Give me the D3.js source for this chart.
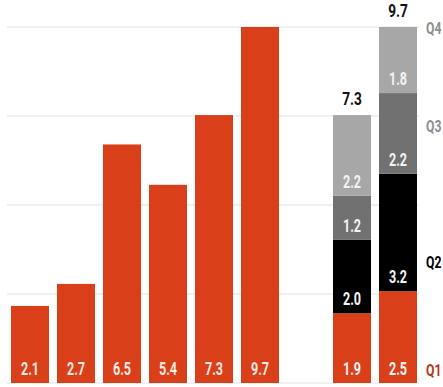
<!DOCTYPE html>
<html>
<head>
<meta charset="utf-8">
<script src="https://cdn.jsdelivr.net/npm/d3@7"></script>
<style>
  html, body { margin: 0; padding: 0; background: #fff; }
  svg { display: block; }
  text { font-family: Roboto, "Liberation Sans", sans-serif; font-weight: 700; }
</style>
</head>
<body>
<svg id="chart" width="443" height="387"></svg>
<script>
// Annual totals (single red bars)
const annualValues = [2.1, 2.7, 6.5, 5.4, 7.3, 9.7];
// Quarterly breakdown of the last two years
const quarterNames = ["Q1", "Q2", "Q3", "Q4"];
const stackA = [1.9, 2.0, 1.2, 2.2];
const stackB = [2.5, 3.2, 2.2, 1.8];
// Slot positions along x: six annual bars, an empty slot, two stacks
const slotKeys = ["y1", "y2", "y3", "y4", "y5", "y6", "blank", "s1", "s2"];
// Where each quarter name sits on the value axis
const quarterLabelAt = [0.35, 3.3, 7.0, 9.68];

const quarterColors = ["#d9401a", "#000000", "#717171", "#a7a7a7"];
const quarterLabelColors = ["#b5361c", "#000000", "#8e8e8e", "#8e8e8e"];
const RED = "#d9401a";
const SX = 0.72; // horizontal squeeze for a condensed look

const svg = d3.select("#chart");
const yMax = d3.max([d3.max(annualValues), d3.sum(stackA), d3.sum(stackB)]);

const x = d3.scaleBand().domain(slotKeys).range([11, 417]).paddingInner(0.174).paddingOuter(0);
const y = d3.scaleLinear().domain([0, yMax]).range([383, 27]);

// Quarter gridlines
const gridVals = d3.range(0, 5).map(k => yMax * k / 4);
svg.append("g").selectAll("line").data(gridVals).join("line")
  .attr("x1", 7).attr("x2", 419)
  .attr("y1", d => y(d)).attr("y2", d => y(d))
  .attr("stroke", "#e2e2e2").attr("stroke-width", 1.2);

function label(g, cx, baseY, txt, size, color) {
  g.append("text")
    .attr("transform", `translate(${cx},${baseY}) scale(${SX},1)`)
    .attr("text-anchor", "middle")
    .attr("font-size", size)
    .attr("fill", color)
    .text(txt);
}

// Annual bars
const annual = annualValues.map((v, i) => ({ key: slotKeys[i], v }));
const gA = svg.append("g");
gA.selectAll("rect").data(annual).join("rect")
  .attr("x", d => x(d.key)).attr("width", x.bandwidth())
  .attr("y", d => y(d.v)).attr("height", d => y(0) - y(d.v))
  .attr("fill", RED);
annual.forEach(d => label(gA, x(d.key) + x.bandwidth() / 2, y(0) - 8, d.v.toFixed(1), 17.5, "#f6e9e2"));

// Stacked quarterly bars
[["s1", stackA], ["s2", stackB]].forEach(([key, vals]) => {
  const g = svg.append("g");
  let acc = 0;
  const segs = vals.map((v, i) => { const s = { i, v, y0: acc, y1: acc + v }; acc += v; return s; });
  g.selectAll("rect").data(segs).join("rect")
    .attr("x", x(key)).attr("width", x.bandwidth())
    .attr("y", d => y(d.y1)).attr("height", d => y(d.y0) - y(d.y1))
    .attr("fill", d => quarterColors[d.i]);
  const cx = x(key) + x.bandwidth() / 2;
  segs.forEach(s => label(g, cx, y(s.y0) - 8, s.v.toFixed(1), 17.5, "#f4f4f4"));
  label(g, cx, y(acc) - 10, acc.toFixed(1), 19, "#111");
});

// Quarter names on the right
const gQ = svg.append("g");
quarterNames.forEach((q, i) => {
  gQ.append("text")
    .attr("transform", `translate(426,${y(quarterLabelAt[i]) + 6}) scale(${SX},1)`)
    .attr("font-size", 17)
    .attr("fill", quarterLabelColors[i])
    .text(q);
});
</script>
</body>
</html>
